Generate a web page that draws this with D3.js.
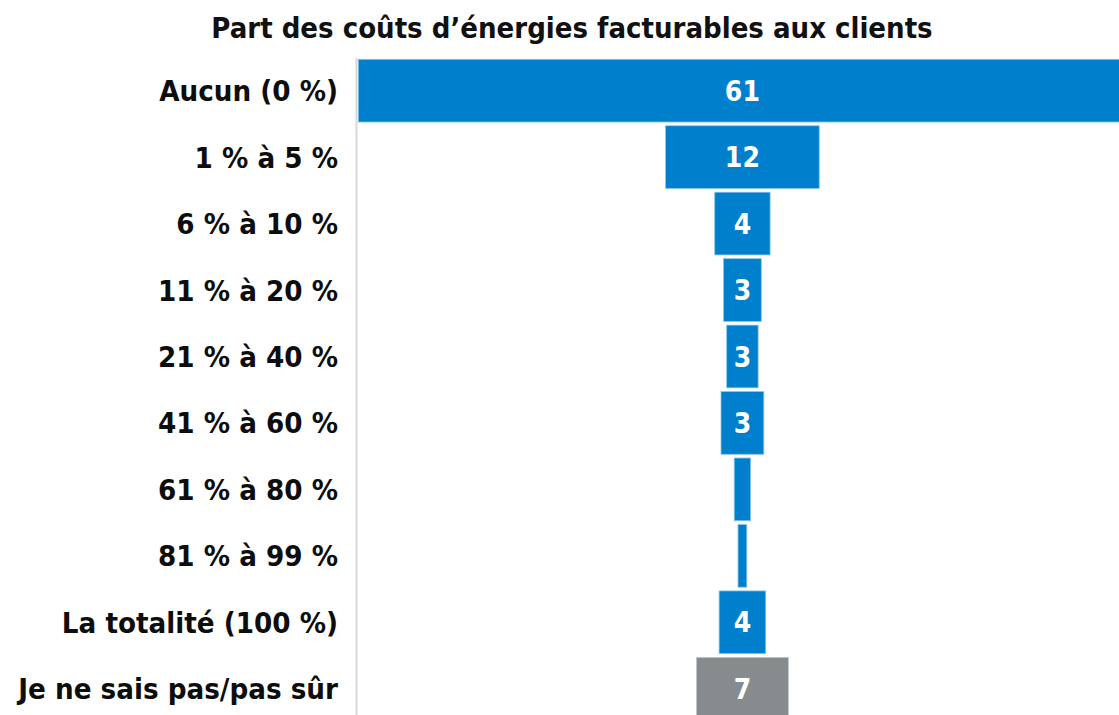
<!DOCTYPE html>
<html>
<head>
<meta charset="utf-8">
<script src="https://cdn.jsdelivr.net/npm/d3@7"></script>
<style>
  html, body { margin: 0; padding: 0; background: #fff; overflow: hidden; }
  svg text { font-family: "DejaVu Sans Condensed", "DejaVu Sans", sans-serif; font-weight: bold; }
</style>
</head>
<body>
<svg id="chart" width="1119" height="715"></svg>
<script>
// categories (top to bottom)
var categories = ['Aucun (0 %)', '1 % à 5 %', '6 % à 10 %', '11 % à 20 %', '21 % à 40 %',
                  '41 % à 60 %', '61 % à 80 %', '81 % à 99 %', 'La totalité (100 %)', 'Je ne sais pas/pas sûr'];
// share of respondents (%)
var values = [61, 12.2, 4.4, 3.0, 2.5, 3.4, 1.3, 0.7, 3.7, 7.3];
// last row is the "don't know" answer, shown in grey
var isUnknown = [false, false, false, false, false, false, false, false, false, true];
var title = 'Part des coûts d\u2019énergies facturables aux clients';

var blue = '#0080cc', grey = '#868b8d';

var svg = d3.select('#chart');

var centerX = 742.4;
var x = d3.scaleLinear()
    .domain([0, 61])
    .range([0, 768.2]);

var y = d3.scaleBand()
    .domain(categories)
    .range([59.3, 720.1])
    .paddingInner(0.056)
    .paddingOuter(0);

// title
svg.append('text')
    .attr('x', 572)
    .attr('y', 38)
    .attr('text-anchor', 'middle')
    .style('font-size', '29px')
    .style('fill', '#111')
    .text(title);

// left axis line
svg.append('line')
    .attr('x1', 356.5).attr('x2', 356.5)
    .attr('y1', 58).attr('y2', 715)
    .style('stroke', '#d9d9d9')
    .style('stroke-width', 2);

var rows = svg.selectAll('g.row')
    .data(categories)
    .enter().append('g')
    .attr('class', 'row');

rows.append('rect')
    .attr('x', function(d, i) { return centerX - x(values[i]) / 2; })
    .attr('y', function(d) { return y(d); })
    .attr('width', function(d, i) { return x(values[i]); })
    .attr('height', y.bandwidth())
    .style('fill', function(d, i) { return isUnknown[i] ? grey : blue; })
    .style('stroke', function(d, i) { return isUnknown[i] ? '#c4c7c8' : '#8cc4e8'; })
    .style('stroke-width', 0.8);

// category labels
rows.append('text')
    .attr('x', 338)
    .attr('y', function(d) { return y(d) + y.bandwidth() / 2; })
    .attr('dy', '0.36em')
    .attr('text-anchor', 'end')
    .style('font-size', '29.2px')
    .style('fill', '#0d0d0d')
    .text(function(d) { return d; });

// value labels, only where the bar is wide enough
rows.filter(function(d, i) { return values[i] >= 2; })
    .append('text')
    .attr('x', centerX)
    .attr('y', function(d) { return y(d) + y.bandwidth() / 2; })
    .attr('dy', '0.36em')
    .attr('text-anchor', 'middle')
    .style('font-size', '28px')
    .style('fill', '#fff')
    .text(function(d) { return Math.round(values[categories.indexOf(d)]); });
</script>
</body>
</html>
